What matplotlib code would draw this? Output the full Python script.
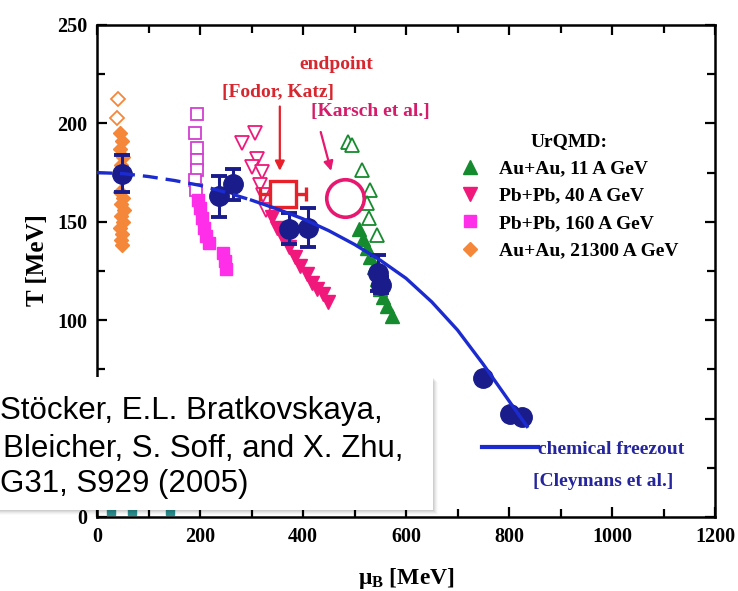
import numpy as np
import matplotlib.pyplot as plt
from matplotlib.patches import Rectangle

plt.rcParams['font.family'] = 'Liberation Serif'
plt.rcParams['font.weight'] = 'bold'
plt.rcParams['axes.labelweight'] = 'bold'
plt.rcParams['mathtext.fontset'] = 'custom'
plt.rcParams['mathtext.rm'] = 'Liberation Serif:bold'
plt.rcParams['mathtext.it'] = 'Liberation Serif:bold'
plt.rcParams['mathtext.bf'] = 'Liberation Serif:bold'

# chemical freeze-out curve (mu_B, T) in MeV, dashed below mu_split
freeze_mu = [0, 50, 100, 150, 200, 250, 300, 350, 400, 450, 500, 550, 600,
             650, 700, 750, 800, 835]
freeze_T = [175, 174.5, 173, 171, 168.5, 165, 161, 156.5, 151.5, 145.5, 138.5,
            130.5, 121.3, 109.3, 95, 77.6, 59, 46]
mu_split = 300

# freeze-out points with error bars
fo_mu = [48, 236, 265, 372, 410, 545, 551, 750, 802, 826]
fo_T = [174.5, 163, 169, 146.5, 147, 124, 118, 70.5, 52.5, 51]
fo_err = [9.5, 10.5, 8, 8, 10, 9, 4, 0, 0, 0]

# UrQMD: Au+Au 11 A GeV
au11_open_mu = [488, 496, 514, 531, 525, 529, 543]
au11_open_T = [190.5, 189, 176.5, 166, 159.5, 152, 143.5]
au11_mu = [509, 517, 524, 530, 537, 543, 549, 556, 563, 572]
au11_T = [146.5, 141.5, 136.5, 132, 127, 121, 116, 112, 107, 102]

# UrQMD: Pb+Pb 40 A GeV
pb40_open_mu = [307, 281, 310, 300, 320, 317, 323, 328]
pb40_open_T = [195, 190, 182, 178, 175.5, 168.5, 163.5, 156]
pb40_mu = [339, 350, 362, 373, 384, 395, 407, 418, 428, 439, 449]
pb40_T = [152.5, 147, 142, 137, 132, 127.5, 123.5, 119, 116, 113.5, 109.5]

# UrQMD: Pb+Pb 160 A GeV
pb160_open_mu = [195, 190, 195, 195, 195, 190, 193]
pb160_open_T = [205, 195, 187.5, 181.5, 176.5, 171, 166]
pb160_mu = [197, 200, 204, 208, 212, 217, 244, 248, 250]
pb160_T = [161, 157, 152, 147, 143, 139, 134, 130, 126]

# UrQMD: Au+Au 21300 A GeV
au21_open_mu = [41, 38]
au21_open_T = [212.5, 202.5]
au21_mu = [45, 48, 45, 50, 46, 44, 50, 46, 52, 47, 50, 45, 49, 46, 48]
au21_T = [195, 191, 187, 183, 179, 165, 162, 159, 156, 153, 150, 147, 144, 141, 138]

# low-T points along the axis
low_mu = [28, 67, 142]
low_T = [3, 3, 3]

# lattice endpoints
fodor_mu, fodor_T, fodor_err = 361, 164.3, 44
karsch_mu, karsch_T = 482, 162

y_ticklabels = ['0', '', '100', '150', '200', '250']

navy = '#1a1c8c'
line_blue = '#1b2bd0'
green = '#168a2e'
dpink = '#f0187a'
magenta = '#ff2ee8'
orchid = '#d23fd2'
orange = '#f5873a'
red = '#e8202a'
kpink = '#e8176f'

fig = plt.figure(figsize=(7.38, 5.91), dpi=100)
ax = fig.add_axes([97/738, 1-517/591, 618/738, 492/591])

ax.plot(low_mu, low_T, 's', ms=6, color='#2a8f8f', clip_on=False)

ax.plot(au21_open_mu, au21_open_T, 'D', ms=7.5, mfc='white', mec=orange, mew=1.3)
h_au21, = ax.plot(au21_mu, au21_T, 'D', ms=7.5, color=orange, mec=orange)
ax.plot(pb160_open_mu, pb160_open_T, 's', ms=8, mfc='white', mec=orchid, mew=1.3)
h_pb160, = ax.plot(pb160_mu, pb160_T, 's', ms=8, color=magenta, mec=magenta)
ax.plot(pb40_open_mu, pb40_open_T, 'v', ms=10.5, mfc='white', mec=dpink, mew=1.3)
h_pb40, = ax.plot(pb40_mu, pb40_T, 'v', ms=10.5, color=dpink, mec=dpink)
ax.plot(au11_open_mu, au11_open_T, '^', ms=10, mfc='white', mec=green, mew=1.3)
h_au11, = ax.plot(au11_mu, au11_T, '^', ms=10, color=green, mec=green)

ax.errorbar(fodor_mu, fodor_T, xerr=fodor_err, fmt='s', ms=19, mfc='white',
            mec=red, mew=2.4, ecolor=red, elinewidth=2.4, capsize=5, capthick=2.4)
ax.plot(karsch_mu, karsch_T, 'o', ms=27, mfc='none', mec=kpink, mew=2.6)

ax.errorbar(fo_mu, fo_T, yerr=fo_err, fmt='o', ms=14, color=navy,
            elinewidth=2.2, capsize=5.5, capthick=2.8, zorder=4)

fmu = np.array(freeze_mu)
fT = np.array(freeze_T)
dash = fmu <= mu_split
solid = fmu >= mu_split
ax.plot(fmu[dash], fT[dash], color=line_blue, lw=2.4, dashes=(4.5, 2.4), zorder=5)
ax.plot(fmu[solid], fT[solid], color=line_blue, lw=2.4, zorder=5)

# annotations for the lattice endpoints
ax.text(464, 230, 'endpoint', color='#d8262f', fontsize=14, ha='center', va='center')
ax.text(351, 215.5, '[Fodor, Katz]', color='#d8262f', fontsize=14, ha='center', va='center')
ax.text(530, 206, '[Karsch et al.]', color='#d41d6a', fontsize=14, ha='center', va='center')
ax.annotate('', xy=(355, 174.5), xytext=(355, 210),
            arrowprops=dict(arrowstyle='-|>', color=red, lw=1.6, mutation_scale=14))
ax.annotate('', xy=(456, 174.5), xytext=(433, 197),
            arrowprops=dict(arrowstyle='-|>', color=kpink, lw=1.6, mutation_scale=14))

# key for the freeze-out curve
ax.plot([0.6225, 0.7136], [0.142, 0.142], transform=ax.transAxes,
        color=line_blue, lw=3)
ax.text(0.7136, 0.137, 'chemical freezout', transform=ax.transAxes,
        color='#25259e', fontsize=14, ha='left', va='center')
ax.text(0.7050, 0.0717, '[Cleymans et al.]', transform=ax.transAxes,
        color='#25259e', fontsize=14, ha='left', va='center')

leg = ax.legend([h_au11, h_pb40, h_pb160, h_au21],
                ['Au+Au, 11 A GeV', 'Pb+Pb, 40 A GeV', 'Pb+Pb, 160 A GeV',
                 'Au+Au, 21300 A GeV'],
                title='UrQMD:', loc='upper left',
                bbox_to_anchor=((460-97)/618, (517-133)/492),
                frameon=False, fontsize=14, title_fontsize=14, handlelength=1.0,
                handletextpad=1.0, labelspacing=0.5, borderpad=0, borderaxespad=0)
leg.get_title().set_fontweight('bold')

ax.set_xlim(0, 1200)
ax.set_ylim(0, 250)
ax.set_xticks(np.arange(0, 1201, 200))
ax.set_xticks(np.arange(100, 1200, 200), minor=True)
ax.set_yticks(np.arange(0, 251, 50))
ax.set_yticklabels(y_ticklabels)
ax.set_yticks(np.arange(25, 250, 50), minor=True)
ax.tick_params(which='both', direction='in', top=True, right=True, width=1.6,
               labelsize=14.5, pad=7)
ax.tick_params(which='major', length=7.5)
ax.tick_params(which='minor', length=5.5)
for sp in ax.spines.values():
    sp.set_linewidth(1.8)

ax.set_xlabel(r'$\mu_B$ [MeV]', fontsize=17, fontweight='bold')
ax.set_ylabel('T [MeV]', fontsize=18, fontweight='bold')
ax.xaxis.set_label_coords(0.5, -0.0996)
ax.yaxis.set_label_coords(-0.078, 0.522)

# reference box overlapping the lower left corner
x0, y0 = -0.02, 1 - 510/591
w, h = 433/738 - x0, (510-377)/591
for k, a in enumerate([0.06, 0.05, 0.04, 0.03, 0.02]):
    d = (k + 1) / 738
    fig.patches.append(Rectangle((x0 + d, y0 - d*738/591), w, h, transform=fig.transFigure,
                                 facecolor='black', edgecolor='none', alpha=a, zorder=8))
fig.patches.append(Rectangle((x0, y0), w, h, transform=fig.transFigure,
                             facecolor='white', edgecolor='none', zorder=9))
ref_lines = ['Stöcker, E.L. Bratkovskaya,', 'Bleicher, S. Soff, and X. Zhu,', 'G31, S929 (2005)']
ref_x = [0.0, 3/738, 0.0]
ref_base = [419, 457, 492]
for s, xx, yb in zip(ref_lines, ref_x, ref_base):
    fig.text(xx, 1 - yb/591, s, fontsize=22.5, family='Liberation Sans',
             fontweight='normal', ha='left', va='baseline', zorder=10)

fig.savefig('out.png', dpi=100)
